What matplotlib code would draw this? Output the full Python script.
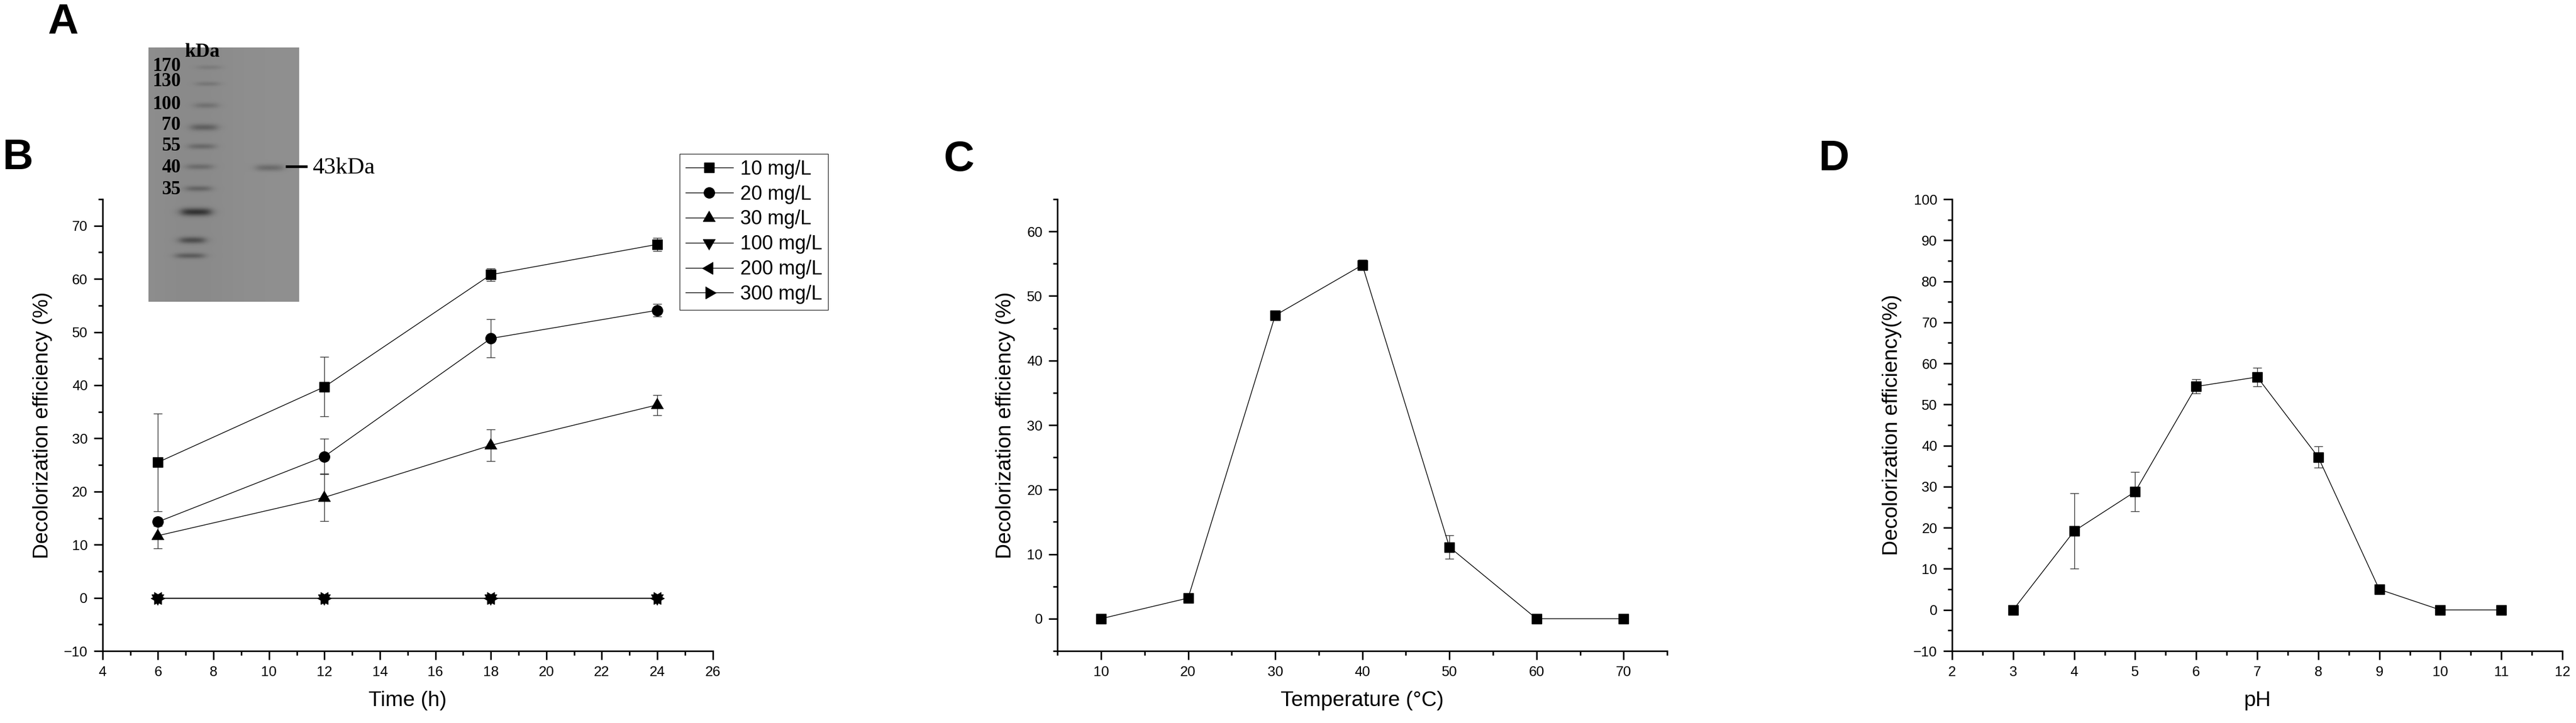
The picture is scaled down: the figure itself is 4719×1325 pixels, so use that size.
import matplotlib
matplotlib.use('Agg')
import matplotlib.pyplot as plt
from matplotlib.ticker import MultipleLocator
import numpy as np

plt.rcParams['font.family'] = ['Liberation Sans', 'DejaVu Sans']

# --- B: decolorization vs time for several dye concentrations
time_h = [6, 12, 18, 24]
conc_labels = ['10 mg/L', '20 mg/L', '30 mg/L', '100 mg/L', '200 mg/L', '300 mg/L']
eff_10 = [25.5, 39.7, 60.8, 66.5]
err_10 = [9.2, 5.6, 1.2, 1.2]
eff_20 = [14.3, 26.6, 48.8, 54.1]
err_20 = [0.8, 3.3, 3.6, 1.2]
eff_30 = [11.7, 18.9, 28.7, 36.3]
err_30 = [2.4, 4.5, 3.0, 1.9]
eff_100 = [0, 0, 0, 0]
eff_200 = [0, 0, 0, 0]
eff_300 = [0, 0, 0, 0]

# --- C: temperature
temp_c = [10, 20, 30, 40, 50, 60, 70]
eff_temp = [0, 3.2, 47.0, 54.8, 11.1, 0, 0]
err_temp = [0, 0, 0.3, 0.8, 1.8, 0, 0]

# --- D: pH
ph = [3, 4, 5, 6, 7, 8, 9, 10, 11]
eff_ph = [0, 19.2, 28.8, 54.4, 56.7, 37.2, 5.0, 0, 0]
err_ph = [0, 9.2, 4.8, 1.7, 2.2, 2.6, 0, 0, 0]

# --- A: SDS-PAGE marker lane
ladder_kda = ['170', '130', '100', '70', '55', '40', '35']
target_label = '43kDa'

W, H = 4719, 1325
fig = plt.figure(figsize=(W / 100, H / 100), dpi=100)

# equilateral triangles like Origin's symbols
tri_up = [(0, 1), (-0.866, -0.5), (0.866, -0.5)]
tri_down = [(x, -y) for x, y in tri_up]
tri_left = [(-y, x) for x, y in tri_up]
tri_right = [(y, x) for x, y in tri_up]


def style_axes(ax):
    for s in ['top', 'right']:
        ax.spines[s].set_visible(False)
    for s in ['left', 'bottom']:
        ax.spines[s].set_linewidth(2.0)
    ax.tick_params(which='major', direction='out', length=11.5, width=2,
                   labelsize=18.5, pad=8)
    ax.tick_params(which='minor', direction='out', length=6, width=2)


def draw_series(ax, x, y, err, marker, ms, label=None):
    if err is not None:
        ax.errorbar(x, y, yerr=err, fmt='none', ecolor='#333333',
                    elinewidth=1.0, capsize=6, capthick=1.0, zorder=2)
    ax.plot(x, y, '-', color='black', lw=1.0, marker=marker, ms=ms,
            mfc='black', mec='black', label=label, zorder=3)


# panel B
axb = fig.add_axes([0.0398, 0.0996, 0.2369, 0.6249])
style_axes(axb)
series_b = [(eff_10, err_10, 's', 13.5), (eff_20, err_20, 'o', 14),
            (eff_30, err_30, tri_up, 18.5), (eff_100, None, tri_down, 18.5),
            (eff_200, None, tri_left, 18.5), (eff_300, None, tri_right, 18.5)]
for (vals, errs, mk, ms), lab in zip(series_b, conc_labels):
    draw_series(axb, time_h, vals, errs, mk, ms, lab)
axb.set_xlim(4, 26)
axb.set_ylim(-10, 75)
axb.xaxis.set_major_locator(MultipleLocator(2))
axb.xaxis.set_minor_locator(MultipleLocator(1))
axb.yaxis.set_major_locator(MultipleLocator(10))
axb.yaxis.set_minor_locator(MultipleLocator(5))
axb.set_xlabel('Time (h)', fontsize=28, labelpad=16)
axb.set_ylabel('Decolorization efficiency (%)', fontsize=28, labelpad=15)
leg = axb.legend(loc='upper left', bbox_to_anchor=(1245 / W, 1 - 282 / H),
                 bbox_transform=fig.transFigure, fontsize=26, frameon=True,
                 fancybox=False, edgecolor='black', handlelength=2.4,
                 handletextpad=0.36, labelspacing=0.3, borderpad=0.3,
                 borderaxespad=0)
leg.get_frame().set_linewidth(1.0)

# panel C
axc = fig.add_axes([0.4105, 0.0996, 0.2367, 0.6249])
style_axes(axc)
draw_series(axc, temp_c, eff_temp, err_temp, 's', 13)
axc.set_xlim(5, 75)
axc.set_ylim(-5, 65)
axc.xaxis.set_major_locator(MultipleLocator(10))
axc.xaxis.set_minor_locator(MultipleLocator(5))
axc.yaxis.set_major_locator(MultipleLocator(10))
axc.yaxis.set_minor_locator(MultipleLocator(5))
axc.set_xlabel('Temperature (°C)', fontsize=28, labelpad=16)
axc.set_ylabel('Decolorization efficiency (%)', fontsize=28, labelpad=15)

# panel D
axd = fig.add_axes([0.7578, 0.0996, 0.2369, 0.6249])
style_axes(axd)
draw_series(axd, ph, eff_ph, err_ph, 's', 13)
axd.set_xlim(2, 12)
axd.set_ylim(-10, 100)
axd.xaxis.set_major_locator(MultipleLocator(1))
axd.xaxis.set_minor_locator(MultipleLocator(0.5))
axd.yaxis.set_major_locator(MultipleLocator(10))
axd.yaxis.set_minor_locator(MultipleLocator(5))
axd.set_xlabel('pH', fontsize=28, labelpad=16)
axd.set_ylabel('Decolorization efficiency(%)', fontsize=28, labelpad=15)

# overlay in pixel coordinates for the gel picture and panel letters
ov = fig.add_axes([0, 0, 1, 1], zorder=10)
ov.axis('off')
ov.patch.set_alpha(0)

gx0, gx1, gy0, gy1 = 272, 548, 87, 553
gh, gw = gy1 - gy0, gx1 - gx0
rows = np.arange(gh)[:, None]
cols = np.arange(gw)[None, :]
gel = np.full((gh, gw), 0.56) - 0.02 * np.exp(-((cols - 0.3 * gw) / 80.0) ** 2)
# (row fraction, col start, col end, darkness, thickness)
bands = [(0.077, 0.33, 0.475, 0.06, 4), (0.142, 0.32, 0.465, 0.08, 4),
         (0.227, 0.31, 0.455, 0.10, 5), (0.313, 0.285, 0.45, 0.17, 6),
         (0.388, 0.27, 0.435, 0.13, 5), (0.468, 0.255, 0.42, 0.12, 5),
         (0.554, 0.25, 0.41, 0.15, 5), (0.646, 0.22, 0.41, 0.34, 7),
         (0.757, 0.21, 0.37, 0.24, 6), (0.818, 0.185, 0.365, 0.18, 5),
         (0.472, 0.717, 0.888, 0.14, 6)]
for fy, fx0, fx1, dk, th in bands:
    prof_y = np.exp(-((rows - fy * gh) / th) ** 2)
    prof_x = 1 / (1 + np.exp(-(cols - fx0 * gw) / 5)) * 1 / (1 + np.exp((cols - fx1 * gw) / 5))
    gel -= dk * prof_y * prof_x
ov.imshow(gel, cmap='gray', vmin=0, vmax=1, extent=(gx0, gx1, gy1, gy0),
          aspect='auto', interpolation='bilinear')
ov.set_xlim(0, W)
ov.set_ylim(H, 0)

label_rows = [122, 150, 192, 230, 267, 307, 347]
for lab, yy in zip(ladder_kda, label_rows):
    ov.text(331, yy, lab, ha='right', va='center', fontsize=25,
            family='Liberation Serif', fontweight='bold')
ov.text(370, 96, 'kDa', ha='center', va='center', fontsize=26,
        family='Liberation Serif', fontweight='bold')
ov.plot([523, 563], [305, 305], color='black', lw=3.5, solid_capstyle='butt')
ov.text(572, 308, target_label, ha='left', va='center', fontsize=31,
        family='Liberation Serif')

for letter, lx, ly in [('A', 115, 41), ('B', 33, 290), ('C', 1757, 292), ('D', 3360, 292)]:
    ov.text(lx, ly, letter, ha='center', va='center', fontsize=56,
            fontweight='bold')

fig.savefig('out.png', dpi=100)
